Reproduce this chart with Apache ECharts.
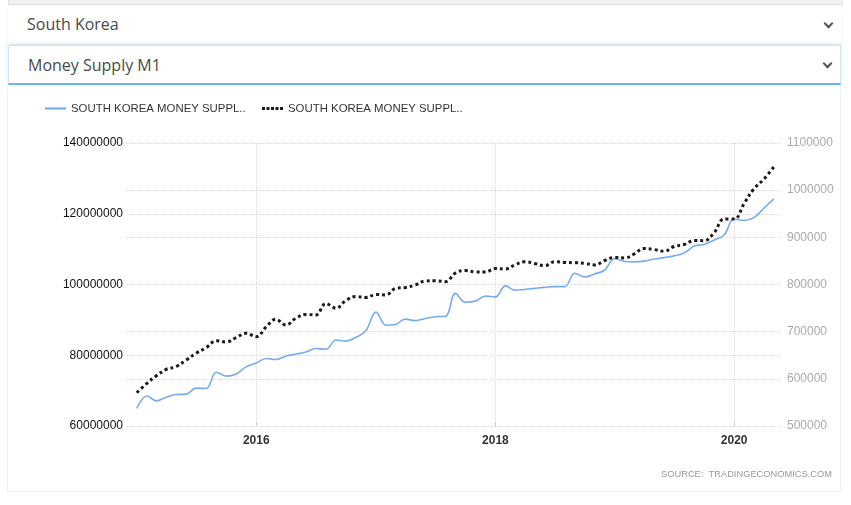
<!DOCTYPE html>
<html>
<head>
<meta charset="utf-8">
<script src="https://cdn.jsdelivr.net/npm/echarts@6/dist/echarts.min.js"></script>
<style>
  html, body { margin: 0; padding: 0; background: #fff; width: 851px; height: 505px; overflow: hidden; }
  .strip { position: absolute; left: 8px; top: 0; width: 833px; height: 4px; background: #f2f2f2; border: 1px solid #e2e2e2; border-top: none; }
  .sel { position: absolute; left: 8px; width: 833px; background: #fff; font-family: "Open Sans", "Noto Sans", sans-serif; font-size: 16px; color: #4a4a4a; box-sizing: border-box; padding-left: 19px; }
  .sel1 { top: 5px; height: 39px; line-height: 39px; box-shadow: 0 2px 3px rgba(0,0,0,0.06); }
  .sel2 { top: 45px; height: 40px; line-height: 38px; border: 1px solid #cfe6f8; border-bottom: 2px solid #6cb3ea; box-shadow: 0 -1px 4px rgba(100,170,230,0.25); }
  .chev { position: absolute; right: 9px; top: 50%; width: 5px; height: 5px; margin-top: -5px; border-right: 2px solid #555; border-bottom: 2px solid #555; transform: rotate(45deg); }
  .box { position: absolute; left: 7px; top: 85px; width: 834px; height: 407px; border: 1px solid #f0f0f0; border-top: none; box-sizing: border-box; }
  #chart { position: absolute; left: 0; top: 0; width: 851px; height: 505px; }
</style>
</head>
<body>
<div class="strip"></div>
<div class="sel sel1">South Korea<span class="chev"></span></div>
<div class="sel sel2">Money Supply M1<span class="chev"></span></div>
<div class="box"></div>
<div id="chart"></div>
<script>
// Monthly dates
var months = [
  '2015-01','2015-02','2015-03','2015-04','2015-05','2015-06','2015-07','2015-08','2015-09','2015-10','2015-11','2015-12',
  '2016-01','2016-02','2016-03','2016-04','2016-05','2016-06','2016-07','2016-08','2016-09','2016-10','2016-11','2016-12',
  '2017-01','2017-02','2017-03','2017-04','2017-05','2017-06','2017-07','2017-08','2017-09','2017-10','2017-11','2017-12',
  '2018-01','2018-02','2018-03','2018-04','2018-05','2018-06','2018-07','2018-08','2018-09','2018-10','2018-11','2018-12',
  '2019-01','2019-02','2019-03','2019-04','2019-05','2019-06','2019-07','2019-08','2019-09','2019-10','2019-11','2019-12',
  '2020-01','2020-02','2020-03','2020-04','2020-05'
];
// Left axis series (blue)
var m1Left = [
  65000000, 68500000, 67100000, 68100000, 68900000, 69000000, 70700000, 70600000, 75200000, 74100000, 74700000, 76700000,
  77800000, 79100000, 78800000, 79800000, 80300000, 80900000, 81900000, 81700000, 84300000, 84000000, 85100000, 86900000,
  92200000, 88500000, 88700000, 90200000, 89800000, 90400000, 90900000, 91000000, 97500000, 95000000, 95300000, 96700000,
  96500000, 99600000, 98400000, 98600000, 98900000, 99200000, 99400000, 99400000, 103200000, 102100000, 103000000, 104100000,
  107300000, 106500000, 106400000, 106600000, 107200000, 107600000, 108100000, 108900000, 110900000, 111300000, 112600000, 114000000,
  118500000, 118100000, 118900000, 121600000, 124200000
];
// Right axis series (black dotted)
var m1Right = [
  570600, 590600, 606000, 620200, 625800, 640000, 654200, 666000, 680900, 678100, 687200, 696600,
  689400, 710600, 726200, 714200, 728400, 736400, 735400, 759700, 749600, 766100, 774600, 772500,
  778800, 777800, 791500, 793700, 799000, 807400, 808100, 806000, 824400, 829700, 826500, 826500,
  833900, 832900, 841400, 848400, 844500, 839900, 848400, 846700, 846200, 845000, 841400, 850900,
  857300, 856200, 864700, 876300, 874200, 870400, 880600, 884800, 893300, 892900, 910300, 938900,
  938900, 972800, 1002500, 1023700, 1049100
];
var seriesNames = ['SOUTH KOREA MONEY SUPPL..', 'SOUTH KOREA MONEY SUPPL.. '];
var xTickDates = ['2016-01-01', '2018-01-01', '2020-01-01'];
var xRange = ['2014-12-02', '2020-05-20'];
var leftTicks = [60000000, 140000000, 20000000];   // min, max, interval
var rightTicks = [500000, 1100000, 100000];         // min, max, interval
var sourceText = 'SOURCE:  TRADINGECONOMICS.COM';

function toTime(s) { var p = s.split('-'); return Date.UTC(+p[0], +p[1] - 1, p[2] ? +p[2] : 1); }
var leftData = months.map(function (m, i) { return [toTime(m), m1Left[i]]; });
var rightData = months.map(function (m, i) { return [toTime(m), m1Right[i]]; });
var tickTimes = xTickDates.map(toTime);

var chart = echarts.init(document.getElementById('chart'), null, { renderer: 'canvas' });
var font = '"Liberation Sans", Arial, sans-serif';
var legendText = { fontFamily: font, fontSize: 11.4, color: '#333' };
var plain = function (v) { return String(v); };
chart.setOption({
  animation: false,
  backgroundColor: 'transparent',
  legend: [
    {
      left: 40, top: 98, itemWidth: 21, itemHeight: 2, textStyle: legendText,
      data: [{ name: seriesNames[0], icon: 'rect', itemStyle: { color: '#6aa6f2' } }]
    },
    {
      left: 257, top: 98, itemWidth: 21, itemHeight: 3, textStyle: legendText,
      data: [{ name: seriesNames[1], icon: 'path://M0,0h3v3h-3z M4.5,0h3v3h-3z M9,0h3v3h-3z M13.5,0h3v3h-3z M18,0h3v3h-3z', itemStyle: { color: '#1a1a1a' } }]
    }
  ],
  grid: { left: 127, right: 71, top: 143, bottom: 79, containLabel: false },
  xAxis: {
    type: 'value',
    min: toTime(xRange[0]),
    max: toTime(xRange[1]),
    axisLine: { show: false },
    axisTick: { show: true, customValues: tickTimes, length: 4, lineStyle: { color: '#ccc' }, inside: true },
    axisLabel: {
      customValues: tickTimes,
      formatter: function (v) { return new Date(v).getUTCFullYear() + ''; },
      fontFamily: font, fontSize: 12, fontWeight: 'bold', color: '#333', margin: 9
    },
    splitLine: { show: true, lineStyle: { color: '#d8d8d8', type: 'dotted', width: 1 } }
  },
  yAxis: [
    {
      type: 'value', position: 'left',
      min: leftTicks[0], max: leftTicks[1], interval: leftTicks[2],
      axisLine: { show: false }, axisTick: { show: false },
      axisLabel: { fontFamily: font, fontSize: 12, color: '#111', margin: 4, formatter: plain },
      splitLine: { show: true, lineStyle: { color: '#d8d8d8', type: 'dotted', width: 1 } }
    },
    {
      type: 'value', position: 'right',
      min: rightTicks[0], max: rightTicks[1], interval: rightTicks[2],
      axisLine: { show: false }, axisTick: { show: false },
      axisLabel: { fontFamily: font, fontSize: 12, color: '#aaa', margin: 7, formatter: plain },
      splitLine: { show: true, lineStyle: { color: '#d8d8d8', type: 'dotted', width: 1 } }
    }
  ],
  graphic: [{
    type: 'text', right: 19, top: 470,
    style: { text: sourceText, fontFamily: font, fontSize: 9.3, fill: '#999' }
  }],
  series: [
    {
      name: seriesNames[0], type: 'line', yAxisIndex: 0, data: leftData,
      smooth: 0.4, showSymbol: false, symbol: 'none',
      itemStyle: { color: '#78acf0' },
      lineStyle: { color: '#78acf0', width: 1.6 }
    },
    {
      name: seriesNames[1], type: 'line', yAxisIndex: 1, data: rightData,
      smooth: 0.4, showSymbol: false, symbol: 'none',
      itemStyle: { color: '#1a1a1a' },
      lineStyle: { color: '#1a1a1a', width: 3, type: [3, 3] }
    }
  ]
});
</script>
</body>
</html>
